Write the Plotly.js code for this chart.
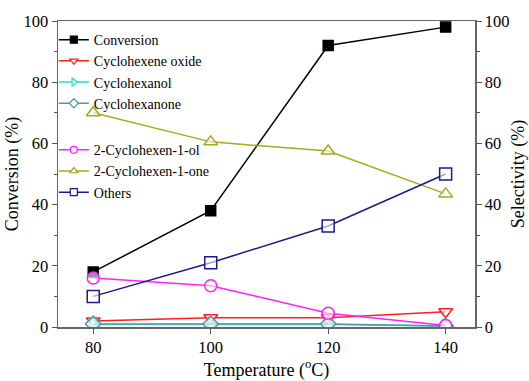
<!DOCTYPE html>
<html>
<head>
<meta charset="utf-8">
<script src="https://cdn.plot.ly/plotly-3.0.1.min.js"></script>
<style>html,body{margin:0;padding:0;background:#fff;}#chart{width:529px;height:381px;}</style>
</head>
<body>
<div id="chart"></div>
<script>
const temperature = [80, 100, 120, 140];
const conversion = [18, 38, 92, 98];
const cyclohexeneOxide = [2, 3, 3, 5];
const cyclohexanol = [0.8, 0.8, 0.8, 0.3];
const cyclohexanone = [1, 1, 1, 0.3];
const cyclohexenol = [16, 13.5, 4.5, 0.5];
const cyclohexenone = [70, 60.5, 57.5, 43.5];
const others = [10, 21, 33, 50];
const xTicks = [80, 100, 120, 140];
const yTicks = [0, 20, 40, 60, 80, 100];

const FAM = 'Liberation Serif, Times New Roman, serif';
const font = {family: FAM, color: '#000'};

const series = [
  {name: 'Conversion', y: conversion, color: '#000', symbol: 'square', filled: true, axis: 'y', legend: 'legend'},
  {name: 'Cyclohexene oxide', y: cyclohexeneOxide, color: '#ff2020', symbol: 'triangle-down', axis: 'y2', legend: 'legend'},
  {name: 'Cyclohexanol', y: cyclohexanol, color: '#20e0d0', symbol: 'triangle-right', axis: 'y2', legend: 'legend'},
  {name: 'Cyclohexanone', y: cyclohexanone, color: '#4a9aa8', symbol: 'diamond', axis: 'y2', legend: 'legend'},
  {name: '2-Cyclohexen-1-ol', y: cyclohexenol, color: '#ff20ff', symbol: 'circle', axis: 'y2', legend: 'legend2'},
  {name: '2-Cyclohexen-1-one', y: cyclohexenone, color: '#a8a820', symbol: 'triangle-up', axis: 'y2', legend: 'legend2'},
  {name: 'Others', y: others, color: '#1a1a8c', symbol: 'square', axis: 'y2', legend: 'legend2'}
];

const traces = [];
series.forEach(s => {
  traces.push({
    x: temperature, y: s.y, name: s.name, type: 'scatter', mode: 'lines+markers',
    yaxis: s.axis, showlegend: false,
    line: {color: s.color, width: 1.5},
    marker: {symbol: s.symbol, size: s.filled ? 10 : 12,
             color: s.filled ? s.color : 'rgba(255,255,255,0.6)', line: {color: s.color, width: 1.5}}
  });
});
// legend-only entries with smaller symbols, matching the reference legend
series.forEach(s => {
  traces.push({
    x: [null], y: [null], name: s.name, type: 'scatter', mode: 'lines+markers',
    yaxis: s.axis, legend: s.legend, showlegend: true, hoverinfo: 'skip',
    line: {color: s.color, width: 1.5},
    marker: {symbol: s.symbol, size: 7,
             color: s.filled ? s.color : '#fff', line: {color: s.color, width: 1.2}}
  });
});

const legendCommon = {
  bgcolor: 'rgba(0,0,0,0)', borderwidth: 0, font: {family: FAM, size: 14, color: '#000'},
  itemwidth: 30, tracegroupgap: 0, xanchor: 'left', yanchor: 'top'
};

const axisFont = {family: FAM, size: 16.5, color: '#000'};
const titleFont = {family: FAM, size: 18, color: '#000'};

const layout = {
  width: 529, height: 381,
  margin: {l: 58, r: 54, t: 21, b: 54},
  paper_bgcolor: '#fff', plot_bgcolor: '#fff',
  font: font,
  showlegend: true,
  xaxis: {
    range: [74, 145], tickvals: xTicks, ticks: 'outside', ticklen: 5, tickcolor: '#555',
    showline: true, linecolor: '#666', linewidth: 1.5, mirror: true, showgrid: false, zeroline: false,
    tickfont: axisFont,
    title: {text: 'Temperature (<sup>o</sup>C)', font: titleFont, standoff: 14}
  },
  yaxis: {
    range: [0, 100], tickvals: yTicks, ticks: 'outside', ticklen: 5, tickcolor: '#555',
    minor: {dtick: 10, ticks: 'outside', ticklen: 3, tickcolor: '#555'},
    showline: true, linecolor: '#666', linewidth: 1.5, showgrid: false, zeroline: false,
    tickfont: axisFont,
    title: {text: 'Conversion (%)', font: titleFont, standoff: 0}
  },
  yaxis2: {
    range: [0, 100], tickvals: yTicks, overlaying: 'y', side: 'right', ticks: 'outside', ticklen: 5, tickcolor: '#555',
    minor: {dtick: 10, ticks: 'outside', ticklen: 3, tickcolor: '#555'},
    showline: true, linecolor: '#666', linewidth: 1.5, showgrid: false, zeroline: false,
    tickfont: axisFont,
    title: {text: 'Selectivity (%)', font: titleFont, standoff: 8}
  },
  legend: Object.assign({}, legendCommon, {x: -0.01, y: 0.99}),
  legend2: Object.assign({}, legendCommon, {x: -0.01, y: 0.63})
};

Plotly.newPlot('chart', traces, layout, {displayModeBar: false, staticPlot: true});
</script>
</body>
</html>
